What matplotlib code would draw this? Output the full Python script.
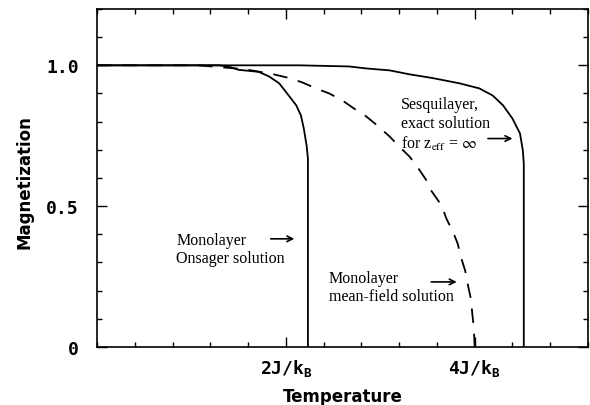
import numpy as np
import matplotlib
matplotlib.use("Agg")
import matplotlib.pyplot as plt
from matplotlib.ticker import FixedLocator, FixedFormatter, MultipleLocator

# curves (temperature in units of J/k_B, magnetization)
onsager_t = [0.0, 1.29, 1.39, 1.50, 1.71, 1.82, 1.93, 2.03, 2.11, 2.16, 2.19, 2.22, 2.234, 2.234]
onsager_m = [1.0, 1.0, 0.996, 0.984, 0.977, 0.961, 0.936, 0.893, 0.858, 0.822, 0.776, 0.715, 0.669, 0.0]

meanfield_t = [0.0, 1.07, 1.57, 1.87, 2.01, 2.17, 2.32, 2.46, 2.60, 2.72, 2.85, 2.97,
               3.10, 3.20, 3.31, 3.39, 3.49, 3.54, 3.65, 3.70, 3.77, 3.82, 3.86,
               3.90, 3.93, 3.96, 3.975, 3.99, 4.0]
meanfield_m = [1.0, 1.0, 0.986, 0.968, 0.957, 0.940, 0.918, 0.900, 0.875, 0.847, 0.819, 0.786,
               0.747, 0.712, 0.676, 0.641, 0.591, 0.555, 0.502, 0.456, 0.409, 0.367, 0.313,
               0.270, 0.217, 0.171, 0.117, 0.071, 0.0]

sesqui_t = [0.0, 2.14, 2.67, 2.85, 3.10, 3.31, 3.55, 3.84, 4.05, 4.19, 4.30, 4.40, 4.48, 4.51, 4.52, 4.52]
sesqui_m = [1.0, 1.0, 0.996, 0.989, 0.982, 0.968, 0.955, 0.936, 0.918, 0.893, 0.858, 0.811, 0.758, 0.698, 0.651, 0.0]

x_tick_pos = [2, 4]
x_tick_labels = ['2J/k$_\\mathrm{B}$', '4J/k$_\\mathrm{B}$']
y_tick_pos = [0, 0.5, 1.0]
y_tick_labels = ['0', '0.5', '1.0']

plt.rcParams['mathtext.fontset'] = 'custom'
plt.rcParams['mathtext.rm'] = 'DejaVu Sans Mono:bold'
plt.rcParams['mathtext.bf'] = 'DejaVu Sans Mono:bold'

fig = plt.figure(figsize=(5.9, 4.06), dpi=100)
ax = fig.add_axes([0.1644, 0.1429, 0.8322, 0.8325])

lw = 1.3
ax.plot(onsager_t, onsager_m, color='black', lw=lw)
ax.plot(meanfield_t, meanfield_m, color='black', lw=lw, dashes=(8, 6))
ax.plot(sesqui_t, sesqui_m, color='black', lw=lw)

ax.set_xlim(0, 5.2)
ax.set_ylim(0, 1.2)

ax.xaxis.set_major_locator(FixedLocator(x_tick_pos))
ax.xaxis.set_major_formatter(FixedFormatter(x_tick_labels))
ax.xaxis.set_minor_locator(MultipleLocator(0.4))
ax.yaxis.set_major_locator(FixedLocator(y_tick_pos))
ax.yaxis.set_major_formatter(FixedFormatter(y_tick_labels))
ax.yaxis.set_minor_locator(MultipleLocator(0.1))

ax.tick_params(which='both', direction='in', top=True, right=True, width=1.0)
ax.tick_params(which='major', length=7)
ax.tick_params(which='minor', length=3.5)
ax.tick_params(axis='y', which='major', pad=13)
ax.tick_params(axis='x', which='major', pad=7)
for lab in ax.get_xticklabels() + ax.get_yticklabels():
    lab.set_fontfamily('DejaVu Sans Mono')
    lab.set_fontweight('bold')
    lab.set_fontsize(13)

for sp in ax.spines.values():
    sp.set_linewidth(1.2)

ax.set_ylabel('Magnetization', fontsize=12, fontweight='bold')
ax.yaxis.set_label_coords(-0.13, 0.49)
ax.set_xlabel('Temperature', fontsize=12, fontweight='bold')
ax.xaxis.set_label_coords(0.501, -0.118)

# annotations
serif = dict(fontfamily='Liberation Serif', fontsize=11.5, va='top', ha='left',
             linespacing=1.2, math_fontfamily='stix')
arrow = dict(arrowstyle='->', lw=1.2, color='black', shrinkA=0, shrinkB=0)

ax.text(0.84, 0.41, 'Monolayer\nOnsager solution', **serif)
ax.annotate('', xy=(2.09, 0.384), xytext=(1.84, 0.384), arrowprops=arrow)

ax.text(2.457, 0.275, 'Monolayer\nmean-field solution', **serif)
ax.annotate('', xy=(3.81, 0.231), xytext=(3.54, 0.231), arrowprops=arrow)

ax.text(3.223, 0.89, 'Sesquilayer,\nexact solution\nfor z$_{\\rm eff}$ = $\\infty$', **serif)
ax.annotate('', xy=(4.40, 0.740), xytext=(4.14, 0.740), arrowprops=arrow)

fig.savefig('out.png', dpi=100)
